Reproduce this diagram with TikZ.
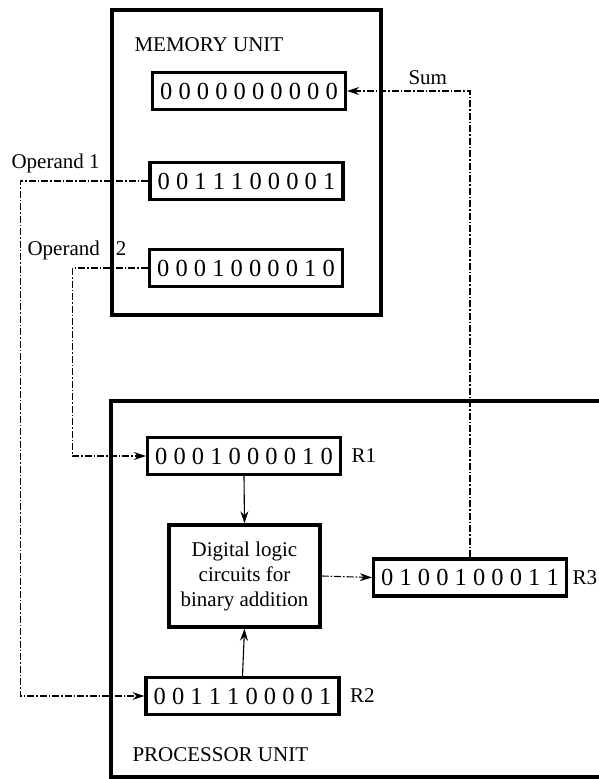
\documentclass[tikz,border=0pt]{standalone}
\usepackage{fontspec}
\setmainfont{Liberation Serif}
\usetikzlibrary{arrows.meta,positioning}

\begin{document}
\begin{tikzpicture}[x=1pt,y=-1pt,>={Stealth[length=12pt,width=8pt]},
    every node/.style={font=\fontsize{21}{24}\selectfont},
    unit/.style={draw,line width=3.2pt,inner sep=0pt},
    reg/.style={draw,line width=3.2pt,inner sep=0pt,minimum width=193pt,minimum height=37pt,
                font=\fontsize{24.5}{26}\selectfont},
    logicbox/.style={draw,line width=3.4pt,inner sep=0pt,minimum width=151pt,minimum height=102pt,
                align=center,font=\fontsize{21}{25}\selectfont},
    bus/.style={line width=1.1pt,dash pattern=on 7pt off 2pt on 1.5pt off 2pt},
    link/.style={line width=1.1pt}]
  \useasboundingbox (0,0) rectangle (599,779);
  \clip (0,0) rectangle (599,779);

  % units
  \node[unit,minimum width=269pt,minimum height=305pt] (mem) at (246.5,162.5) {};
  \node[unit,minimum width=520pt,minimum height=376pt] (proc) at (371,589) {};
  \node[anchor=west] (memlabel)  at (131,45)  {MEMORY UNIT};
  \node[anchor=west] (proclabel) at (129,755) {PROCESSOR UNIT};

  % memory words
  \node[reg] (m1) at (249,91)  {0 0 0 0 0 0 0 0 0 0};
  \node[reg] (m2) at (246.5,181) {0 0 1 1 1 0 0 0 0 1};
  \node[reg] (m3) at (246,268) {0 0 0 1 0 0 0 0 1 0};

  % processor registers
  \node[reg] (r1) at (244,456)   {0 0 0 1 0 0 0 0 1 0};
  \node[reg] (r2) at (242.5,696) {0 0 1 1 1 0 0 0 0 1};
  \node[reg] (r3) at (470,577.5) {0 1 0 0 1 0 0 0 1 1};
  \node[right=6pt of r1] (r1label) {R1};
  \node[right=1pt of r3] (r3label) {R3};
  \node[right=6pt of r2] (r2label) {R2};

  \node[logicbox] (logic) at (244.5,576) {Digital logic\\circuits for\\binary addition};

  % labels on the buses
  \node[anchor=west] (op1label) at (8,163) {Operand 1};
  \node[anchor=west] (op2label) at (24,250) {Operand\hspace{16pt}2};
  \node[anchor=west] (sumlabel) at (405,78) {Sum};

  \draw[bus,->] (m2.west) -- ++(-128,0) |- (r2.west);
  \draw[bus,->] (m3.west) -- ++(-75,0) |- (r1.west);
  \draw[bus,->] (r3.north) |- (m1.east);
  \draw[bus,->] (logic.east) -- (r3.west);
  \draw[link,->] (r1.south) -- (logic.north);
  \draw[link,->] (r2.north) -- (logic.south);
\end{tikzpicture}
\end{document}
